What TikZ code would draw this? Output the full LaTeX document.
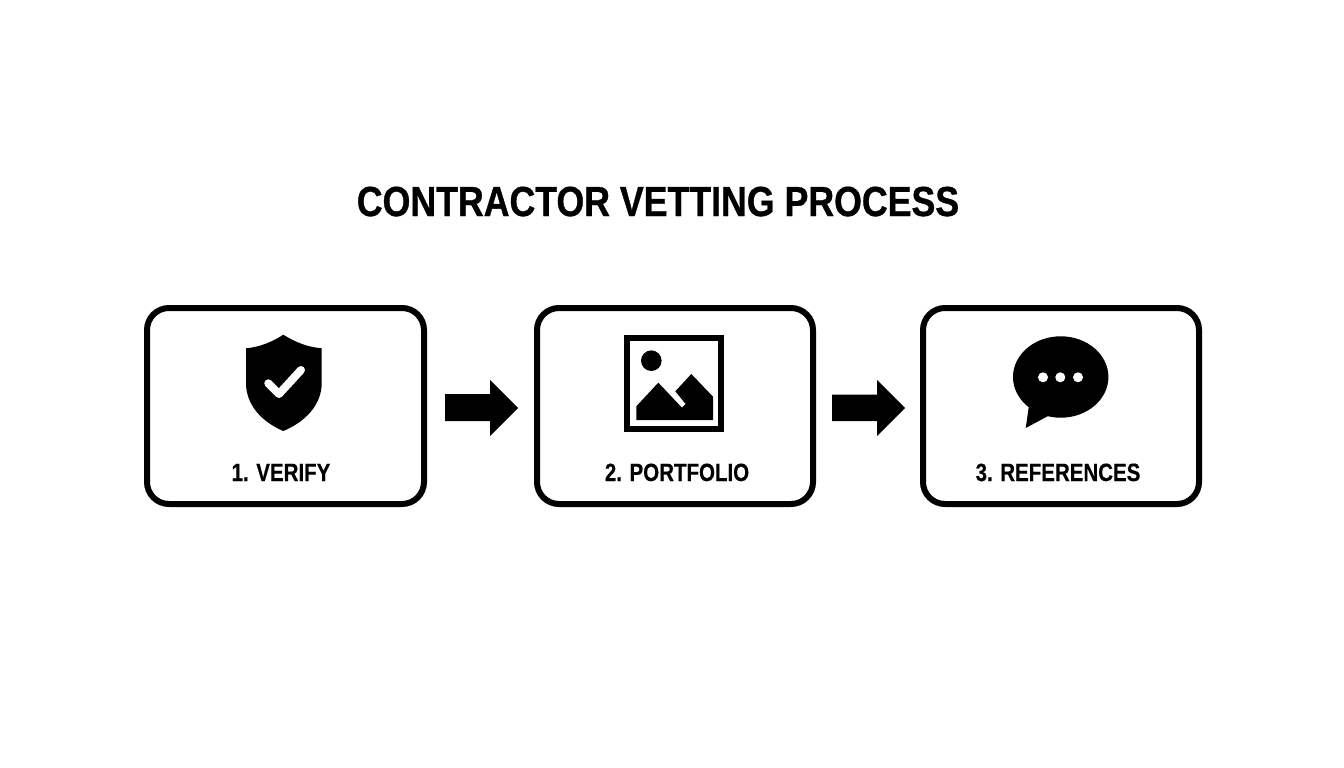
\documentclass[tikz,border=0pt]{standalone}
\usepackage{fontspec}
\setmainfont{Liberation Sans}[BoldFont={Liberation Sans Bold}]
\newfontfamily\labelfont{Liberation Sans Bold}[FakeStretch=0.82,FakeBold=0.4]
\newfontfamily\headfont{Liberation Sans Bold}[FakeStretch=0.85,FakeBold=0.8]
\begin{document}
\begin{tikzpicture}[x=1pt,y=-1pt,
  card/.style={draw=black,line width=6pt,rounded corners=22pt,fill=white},
  caption/.style={font=\labelfont\fontsize{25}{30}\selectfont,text=black,inner sep=0pt,anchor=base},
  heading/.style={font=\headfont\fontsize{42}{50}\selectfont,text=black,inner sep=0pt,anchor=base},
  glyph/.style={fill=black,draw=none},
  hollow/.style={fill=white,draw=none}]
\useasboundingbox[fill=white] (0,0) rectangle (1344,768);
\node[heading] (title) at (658,216) {CONTRACTOR VETTING PROCESS};
% cards
\draw[card] (147,308) rectangle (424,504);
\draw[card] (537,308) rectangle (813,504);
\draw[card] (923,308) rectangle (1199,504);
\node[caption] (l1) at (281,481) {1. VERIFY};
\node[caption] (l2) at (677,481) {2. PORTFOLIO};
\node[caption] (l3) at (1058,481) {3. REFERENCES};
% arrows
\fill[glyph] (445,394) -- (490,394) -- (490,380) -- (518,408) -- (490,436) -- (490,421) -- (445,421) -- cycle;
\fill[glyph] (832,394.5) -- (877,394.5) -- (877,380) -- (905,408) -- (877,436) -- (877,421) -- (832,421) -- cycle;
% shield
\fill[glyph] (283.3,334.7) .. controls (272,342) and (260,347) .. (246,348.3) -- (246,383)
  .. controls (246,405) and (262,422) .. (283.3,431)
  .. controls (305,422) and (321.7,405) .. (321.7,383) -- (321.7,348.3)
  .. controls (307,347) and (295,342) .. (283.3,334.7) -- cycle;
\draw[white,line width=8pt,line cap=round,line join=round] (268.3,383.3) -- (279,394) -- (301,370);
% picture
\draw[black,line width=6pt] (627.3,337.7) rectangle (721.3,429);
\fill[glyph] (651.3,360.7) circle (10.3);
\fill[glyph] (636.3,420) -- (636.3,406.3) -- (658.3,382.7) -- (682,407.7) -- (685.7,404) -- (675.3,391.3) -- (691.3,374) -- (713,396.7) -- (713,420) -- cycle;
% bubble
\fill[glyph] (1060.7,377) ellipse (47.7 and 40.7);
\fill[glyph] (1029,405) -- (1025.7,428) -- (1050,415) -- cycle;
\fill[hollow] (1043,377.3) circle (5);
\fill[hollow] (1060.3,377.3) circle (5);
\fill[hollow] (1078,377.3) circle (5);
\end{tikzpicture}
\end{document}
